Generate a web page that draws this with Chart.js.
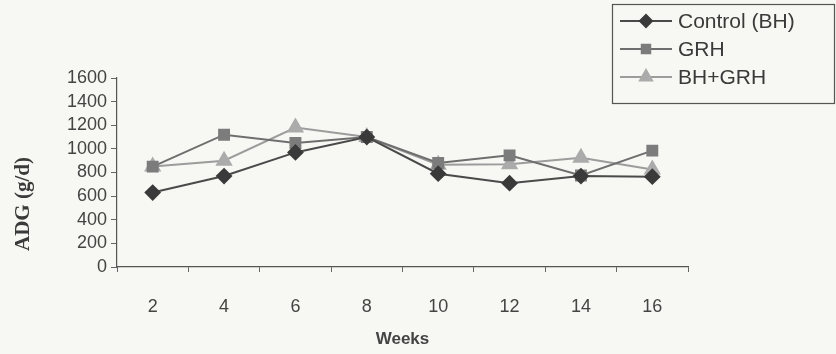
<!DOCTYPE html>
<html>
<head>
<meta charset="utf-8">
<script src="https://cdn.jsdelivr.net/npm/chart.js@4/dist/chart.umd.min.js"></script>
<style>
  html, body { margin: 0; padding: 0; background: #f7f7f3; }
  #wrap { width: 836px; height: 354px; position: relative; }
</style>
</head>
<body>
<div id="wrap"><canvas id="adg"></canvas></div>
<script>
// weeks on the x axis, ADG (g/d) per treatment
var weeks = ['2', '4', '6', '8', '10', '12', '14', '16'];
var controlBH = [630, 770, 970, 1100, 790, 710, 770, 765];
var grh = [850, 1120, 1050, 1100, 880, 945, 775, 985];
var bhGrh = [850, 900, 1180, 1100, 865, 870, 925, 825];
var yTicks = [0, 200, 400, 600, 800, 1000, 1200, 1400, 1600];

var seriesNames = ['Control (BH)', 'GRH', 'BH+GRH'];

// legend box in the top right, line + marker like the old excel style
var boxLegend = {
  id: 'boxLegend',
  afterDraw: function (chart) {
    var c = chart.ctx;
    var x0 = 612, y0 = 4, w = 222, h = 99;
    c.save();
    c.strokeStyle = '#555';
    c.lineWidth = 1.2;
    c.strokeRect(x0 + 0.5, y0 + 0.5, w, h);
    c.font = '21px "Liberation Sans", Arial, sans-serif';
    c.textBaseline = 'middle';
    chart.data.datasets.forEach(function (ds, i) {
      var y = 21 + i * 28;
      c.strokeStyle = ds.borderColor;
      c.lineWidth = ds.borderWidth;
      c.beginPath();
      c.moveTo(x0 + 8, y);
      c.lineTo(x0 + 60, y);
      c.stroke();
      c.fillStyle = ds.pointBackgroundColor;
      c.strokeStyle = ds.pointBorderColor;
      Chart.helpers.drawPoint(c, {
        pointStyle: ds.pointStyle,
        radius: ds.pointRadius - 1,
        rotation: 0,
        borderWidth: 1
      }, x0 + 34, y);
      c.fillStyle = '#3a3a3a';
      c.fillText(ds.label, x0 + 66, y + 1);
    });
    c.restore();
  }
};

// rotated serif title for the y axis and the paper background
var extras = {
  id: 'extras',
  beforeDraw: function (chart) {
    var c = chart.ctx;
    c.save();
    c.fillStyle = '#f7f7f3';
    c.fillRect(0, 0, chart.width, chart.height);
    c.restore();
  },
  afterDraw: function (chart) {
    var c = chart.ctx;
    c.save();
    c.translate(24, 204);
    c.rotate(-Math.PI / 2);
    c.font = 'bold 21px "Liberation Serif", "Times New Roman", serif';
    c.fillStyle = '#3a3a3a';
    c.textAlign = 'center';
    c.textBaseline = 'middle';
    c.fillText('ADG (g/d)', 0, 0);
    c.restore();
  }
};

function makeSet(label, data, line, fill, style, r) {
  return {
    label: label,
    data: data,
    borderColor: line,
    borderWidth: 2,
    backgroundColor: fill,
    pointBackgroundColor: fill,
    pointBorderColor: fill,
    pointStyle: style,
    pointRadius: r,
    pointHoverRadius: r,
    tension: 0
  };
}

new Chart(document.getElementById('adg'), {
  type: 'line',
  data: {
    labels: weeks,
    datasets: [
      makeSet(seriesNames[0], controlBH, '#4a4a4a', '#3a3a3a', 'rectRot', 7),
      makeSet(seriesNames[1], grh, '#6e6e6e', '#7c7c7c', 'rect', 7),
      makeSet(seriesNames[2], bhGrh, '#9c9c9c', '#ababab', 'triangle', 8)
    ]
  },
  options: {
    responsive: true,
    maintainAspectRatio: false,
    animation: false,
    layout: { padding: { top: 78, right: 148, left: 0, bottom: 0 } },
    plugins: {
      legend: { display: false },
      tooltip: { enabled: false }
    },
    scales: {
      x: {
        offset: true,
        afterFit: function (s) { s.height = 87; },
        grid: {
          display: true,
          offset: true,
          drawOnChartArea: false,
          tickLength: 5,
          color: '#666'
        },
        border: { display: true, color: '#555', width: 1.2 },
        ticks: {
          color: '#444',
          padding: 24,
          font: { family: '"Liberation Sans", Arial, sans-serif', size: 18 }
        },
        title: {
          display: true,
          text: 'Weeks',
          color: '#444',
          padding: { top: 0 },
          font: { family: '"Liberation Sans", Arial, sans-serif', size: 17, weight: 'bold' }
        }
      },
      y: {
        min: 0,
        max: 1600,
        afterFit: function (s) { s.width = 117; },
        afterBuildTicks: function (s) {
          s.ticks = yTicks.map(function (v) { return { value: v }; });
        },
        grid: {
          display: true,
          drawOnChartArea: false,
          tickLength: 6,
          color: '#666'
        },
        border: { display: true, color: '#555', width: 1.2 },
        ticks: {
          color: '#444',
          padding: 4,
          autoSkip: false,
          callback: function (v) { return String(v); },
          font: { family: '"Liberation Sans", Arial, sans-serif', size: 18 }
        }
      }
    }
  },
  plugins: [extras, boxLegend]
});
</script>
</body>
</html>
